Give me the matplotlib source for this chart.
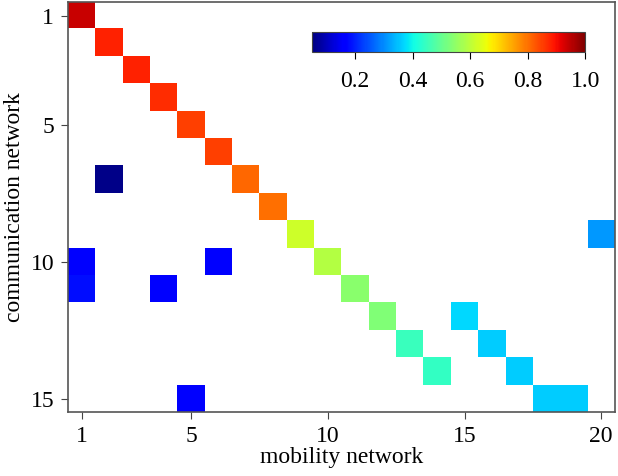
import numpy as np
import matplotlib.pyplot as plt

plt.rcParams['font.family'] = ['Liberation Serif', 'DejaVu Serif']

# non-empty cells: (communication row, mobility column, value)
rows = [1, 2, 3, 4, 5, 6, 7, 7, 8, 9, 9, 10, 10, 10, 11, 11, 11, 12, 12, 13, 13, 14, 14, 15, 15, 15]
cols = [1, 2, 3, 4, 5, 6, 7, 2, 8, 9, 20, 10, 1, 6, 11, 1, 4, 12, 15, 13, 16, 14, 17, 18, 19, 5]
vals = [0.94, 0.88, 0.88, 0.87, 0.85, 0.85, 0.81, 0.06, 0.80, 0.62, 0.31, 0.59, 0.17, 0.17,
        0.54, 0.18, 0.17, 0.53, 0.37, 0.45, 0.36, 0.44, 0.36, 0.36, 0.36, 0.16]

n_rows, n_cols = 15, 20
x_ticks = [1, 5, 10, 15, 20]
y_ticks = [1, 5, 10, 15]
cbar_ticks = [0.2, 0.4, 0.6, 0.8, 1.0]

grid = np.full((n_rows, n_cols), np.nan)
for r, c, v in zip(rows, cols, vals):
    grid[r - 1, c - 1] = v
grid = np.ma.masked_invalid(grid)

fig = plt.figure(figsize=(6.18, 4.76), dpi=100)
ax = fig.add_axes([0.110, 0.134, 0.885, 0.862])
im = ax.imshow(grid, cmap='jet', vmin=0.05, vmax=1.0, aspect='auto',
               extent=(0.5, n_cols + 0.5, n_rows + 0.5, 0.5), interpolation='nearest')

ax.set_xticks(x_ticks)
ax.set_yticks(y_ticks)
ax.tick_params(labelsize=17, length=5, color='#444444', pad=5)
for s in ax.spines.values():
    s.set_color('#555555')
    s.set_linewidth(1.2)
ax.set_xlabel('mobility network', fontsize=17, labelpad=0)
ax.set_ylabel('communication network', fontsize=17, labelpad=4)

cax = fig.add_axes([0.505, 0.891, 0.442, 0.042])
cb = fig.colorbar(im, cax=cax, orientation='horizontal', ticks=cbar_ticks)
cb.ax.tick_params(labelsize=17, length=5, pad=9)
cb.outline.set_color('#444444')
cb.ax.set_xticklabels(['%.1f' % t for t in cbar_ticks])

fig.savefig('out.png', dpi=100)
